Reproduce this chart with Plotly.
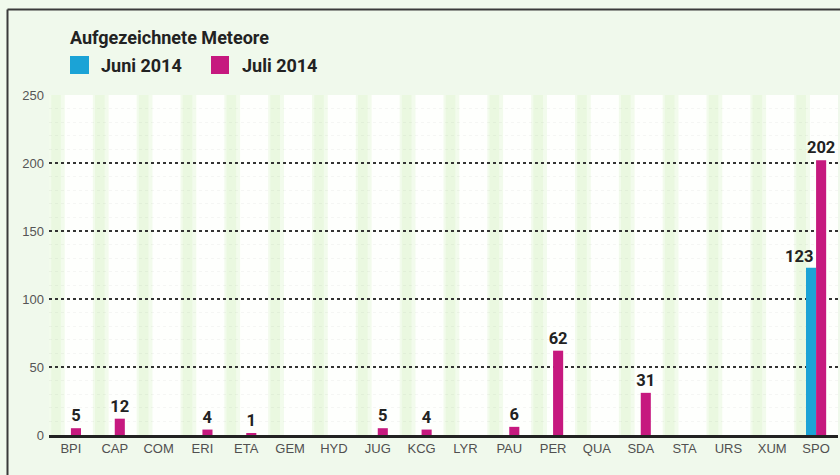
import plotly.graph_objects as go

categories = ["BPI", "CAP", "COM", "ERI", "ETA", "GEM", "HYD", "JUG", "KCG",
              "LYR", "PAU", "PER", "QUA", "SDA", "STA", "URS", "XUM", "SPO"]
juni_2014 = [0, 0, 0, 0, 0, 0, 0, 0, 0, 0, 0, 0, 0, 0, 0, 0, 0, 123]
juli_2014 = [5, 12, 0, 4, 1, 0, 0, 5, 4, 0, 6, 62, 0, 31, 0, 0, 0, 202]
y_ticks = [0, 50, 100, 150, 200, 250]
title_text = "Aufgezeichnete Meteore"
name_juni = "Juni 2014"
name_juli = "Juli 2014"

CYAN = "#1BA3D6"
MAGENTA = "#C6197F"
NARROW = "Roboto, Liberation Sans, Arial, sans-serif"
REG = "Liberation Sans, Arial, sans-serif"

L, R, T, B = 49, 2, 95, 40
W, H = 840, 475
pw, ph = W - L - R, H - T - B

def px_x(x):
    return (x - L) / pw

def px_y(y):
    return (H - B - y) / ph

def bold_font(size):
    return dict(family=NARROW, size=size, color="#222", weight="bold")

fig = go.Figure()
fig.add_trace(go.Bar(
    x=categories, y=juni_2014, name=name_juni, marker_color=CYAN,
    marker_line_width=0, showlegend=False,
))
fig.add_trace(go.Bar(
    x=categories, y=juli_2014, name=name_juli, marker_color=MAGENTA,
    marker_line_width=0, showlegend=False,
    text=[str(v) if v else "" for v in juli_2014],
    textposition="outside", cliponaxis=False, constraintext="none",
    textfont=bold_font(16.5),
))

shapes = []
for i in range(len(categories)):
    shapes.append(dict(type="rect", xref="x", yref="y", x0=i - 0.5, x1=i - 0.5 + 0.36,
                       y0=0, y1=250, fillcolor="#F2FBEC", line_width=0, layer="below"))
    shapes.append(dict(type="rect", xref="x", yref="y", x0=i - 0.5 + 0.05, x1=i - 0.5 + 0.27,
                       y0=0, y1=250, fillcolor="#EAF8E0", line_width=0, layer="below"))

# frame
fx, fy = px_x(7.5), px_y(9.5)
shapes.append(dict(type="line", xref="paper", yref="paper", x0=fx, x1=fx, y0=fy, y1=px_y(480),
                   line=dict(color="#3a3a3a", width=2)))
shapes.append(dict(type="line", xref="paper", yref="paper", x0=fx, x1=px_x(845), y0=fy, y1=fy,
                   line=dict(color="#3a3a3a", width=2)))
# legend squares
shapes.append(dict(type="rect", xref="paper", yref="paper", x0=px_x(70), x1=px_x(89),
                   y0=px_y(74), y1=px_y(56), fillcolor=CYAN, line_width=0))
shapes.append(dict(type="rect", xref="paper", yref="paper", x0=px_x(211), x1=px_x(229),
                   y0=px_y(74), y1=px_y(56), fillcolor=MAGENTA, line_width=0))

annotations = [
    dict(text=title_text, xref="paper", yref="paper", x=px_x(68), y=px_y(38),
         xanchor="left", yanchor="middle", showarrow=False, font=bold_font(18)),
    dict(text=name_juni, xref="paper", yref="paper", x=px_x(99), y=px_y(65),
         xanchor="left", yanchor="middle", showarrow=False, font=bold_font(18)),
    dict(text=name_juli, xref="paper", yref="paper", x=px_x(240), y=px_y(65),
         xanchor="left", yanchor="middle", showarrow=False, font=bold_font(18)),
]
for c, v in zip(categories, juni_2014):
    if v:
        annotations.append(dict(text=str(v), x=c, y=v, xref="x", yref="y",
                                xanchor="right", yanchor="bottom", xshift=-1, showarrow=False,
                                font=bold_font(16.5)))

fig.update_layout(
    width=W, height=H,
    margin=dict(l=L, r=R, t=T, b=B, autoexpand=False),
    paper_bgcolor="#F0F9EC",
    plot_bgcolor="#FEFFFD",
    barmode="group", bargap=0.54, bargroupgap=0,
    shapes=shapes, annotations=annotations,
    showlegend=False,
    xaxis=dict(
        type="category", range=[-0.5, len(categories) - 0.5],
        showgrid=False, zeroline=False, showline=True, linecolor="#222", linewidth=2.5,
        ticks="", tickfont=dict(family=REG, size=13, color="#505050"),
    ),
    yaxis=dict(
        range=[0, 250], tickvals=y_ticks, ticks="", ticklabelstandoff=4,
        tickfont=dict(family=REG, size=13, color="#555"),
        showgrid=True, gridcolor="#333", griddash="dot", gridwidth=1.5,
        zeroline=False, showline=False,
        minor=dict(dtick=10, showgrid=True, gridcolor="rgba(0,0,0,0.035)", gridwidth=1),
    ),
)

fig.write_html("out.html", config={"displayModeBar": False},
               post_script="document.body.style.margin='0';")
